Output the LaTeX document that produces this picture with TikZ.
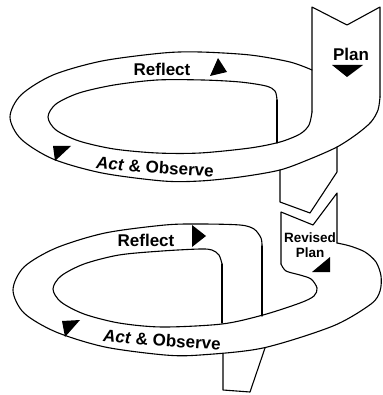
\documentclass[tikz,border=0pt]{standalone}
\usepackage{fontspec}
\setmainfont{Liberation Sans}
\begin{document}
\begin{tikzpicture}[x=1pt,y=-1pt,
  edge/.style={draw=black, line width=1.1pt, line cap=round, line join=round},
  lbl/.style={font=\bfseries\fontsize{17}{17}\selectfont, inner sep=0pt},
  small/.style={font=\bfseries\fontsize{13.5}{15}\selectfont, inner sep=0pt, align=center},
  tri/.style={fill=black}]
\useasboundingbox (0,0) rectangle (382,395);

% ---------- upper ring ----------
\draw[edge] (277,143) -- (277,100);
\draw[edge] plot[smooth] coordinates {(277,100) (275,91) (266,86) (240,82) (203,80) (157,80) (114,85) (79,93) (56,104) (48,117) (56,130) (79,141) (114,149) (157,153) (200,153) (250,148) (280,142) (300,134) (309,125) (312,112)};
\draw[edge] (312,112) -- (312,7) -- (347,25) -- (380,7) -- (380,97);
\draw[edge] plot[smooth] coordinates {(380,97) (378,110) (371,122) (357,134) (337,147) (310,159) (280,170) (240,177) (200,181) (163,181) (102,173) (53,159) (21,139) (10,117) (21,95) (53,75) (102,61) (163,53) (200,52) (250,55) (290,62) (312,70)};
% descending band tail of upper ring
\draw[edge] (280,170) -- (280,202) -- (310,213) -- (337,172) -- (337,147);

% ---------- lower ring ----------
\draw[edge] (281,264) -- (281,212) -- (313,225) -- (337,193) -- (337,243);
\draw[edge] plot[smooth] coordinates {(337,243) (350,246) (365,252) (376,262) (381,276) (380,291) (371,304) (333,326) (263,348) (200,355) (165,355) (105,347) (56,332) (24,313) (13,290) (24,267) (56,248) (105,233) (165,225) (200,224) (240,225) (254,229) (261,238) (262,246)};
\draw[edge] (262,246) -- (262,316);
\draw[edge] plot[smooth] coordinates {(281,264) (286,271) (300,275) (311,279) (317,288) (314,296) (300,303) (263,315) (222,324) (162,327) (119,323) (84,314) (61,302) (53,289) (61,276) (84,264) (119,255) (162,251) (200,249) (212,250) (219,255) (222,264)};
\draw[edge] (222,264) -- (222,323);
% descending tail of lower ring
\draw[edge] (223,354) -- (223,390) -- (250,392) -- (265,348);

% ---------- arrow triangles ----------
\fill[tri] (218,58) -- (210,76) -- (227,72) -- cycle;
\fill[tri] (332,65) -- (363,65) -- (347,77) -- cycle;
\fill[tri] (53,146) -- (71,146) -- (55,161) -- cycle;
\fill[tri] (192,225) -- (192,247) -- (206,236) -- cycle;
\fill[tri] (330,257) -- (312,272) -- (330,272) -- cycle;
\fill[tri] (62,321) -- (80,320) -- (65,337) -- cycle;

% ---------- labels ----------
\node[lbl] (reflect1) at (162,69) {Reflect};
\node[lbl, rotate=-4] (act1) at (155,167) {\textit{Act} \& Observe};
\node[lbl] (plan1) at (351,54) {Plan};
\node[lbl] (reflect2) at (146,240) {Reflect};
\node[small] (rev) at (310,245) {Revised\\Plan};
\node[lbl, rotate=-4] (act2) at (162,340) {\textit{Act} \& Observe};
\end{tikzpicture}
\end{document}
